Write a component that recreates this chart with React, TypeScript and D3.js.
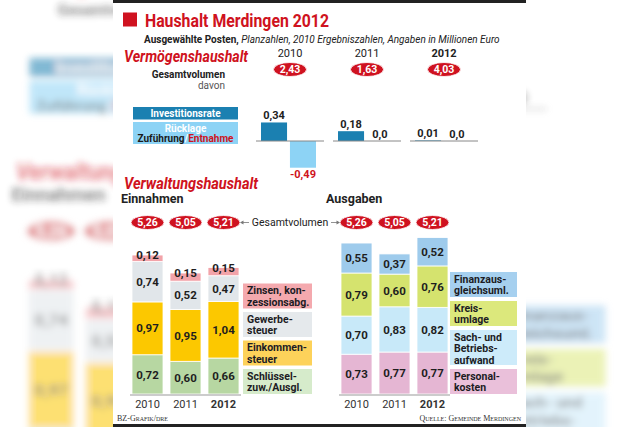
import React from 'react';
import * as d3 from 'd3';

const years = ['2010', '2011', '2012'];
const vermoegenTotal = [2.43, 1.63, 4.03];
const investitionsrate = [0.34, 0.18, 0.01];
const ruecklage = [-0.49, 0.0, 0.0];
const einnahmenTotal = [5.26, 5.05, 5.21];
const ausgabenTotal = [5.26, 5.05, 5.21];

const schluessel = [0.72, 0.6, 0.66];
const einkommen = [0.97, 0.95, 1.04];
const gewerbe = [0.74, 0.52, 0.47];
const zinsen = [0.12, 0.15, 0.15];

const personal = [0.73, 0.77, 0.77];
const sach = [0.7, 0.83, 0.82];
const kreis = [0.79, 0.6, 0.76];
const finanz = [0.55, 0.37, 0.52];

const einKeys = ['schluessel', 'einkommen', 'gewerbe', 'zinsen'];
const ausKeys = ['personal', 'sach', 'kreis', 'finanz'];
const einLegend = [['Zinsen, kon-', 'zessionsabg.'], ['Gewerbe-', 'steuer'], ['Einkommen-', 'steuer'], ['Schlüssel-', 'zuw./Ausgl.']];
const ausLegend = [['Finanzaus-', 'gleichsuml.'], ['Kreis-', 'umlage'], ['Sach- und', 'Betriebs-', 'aufwand'], ['Personal-', 'kosten']];

const barColor: Record<string, string> = {
  schluessel: '#b7d7a2', einkommen: '#fcc800', gewerbe: '#e1e6ea', zinsen: '#f2a3a9',
  personal: '#e5b6d3', sach: '#c8e9f9', kreis: '#d5e36e', finanz: '#9ecbec',
};
const legColorEin = ['#f4a9ae', '#e5e9ec', '#fdd25a', '#d6ebcb'];
const legColorAus = ['#a6d0ef', '#dce87c', '#cdebfa', '#eac0da'];

const RED = '#cf1220';
const SANS = 'Roboto, "Open Sans", sans-serif';
const fmt = (v: number) => (v === 0 ? '0,0' : v.toFixed(2).replace('.', ','));

const UNIT = 54.5;
const BASE = 394;

function Chart() {
  // Vermögenshaushalt
  const xV = d3.scaleBand().domain(years).range([256, 478]).paddingInner(0.117);
  const xVi = d3.scaleBand().domain(['inv', 'rue']).range([5, 60]).paddingInner(0.1);
  const yV = d3.scaleLinear().domain([-1, 1]).range([141 + UNIT, 141 - UNIT]);

  // Verwaltungshaushalt
  const xE = d3.scaleBand().domain(years).range([132, 239]).paddingInner(0.184);
  const xA = d3.scaleBand().domain(years).range([341, 448]).paddingInner(0.184);
  const y = d3.scaleLinear().domain([0, 3]).range([BASE, BASE - 3 * UNIT]);

  const einRows = years.map((yr, i) => ({ year: yr, schluessel: schluessel[i], einkommen: einkommen[i], gewerbe: gewerbe[i], zinsen: zinsen[i] }));
  const ausRows = years.map((yr, i) => ({ year: yr, personal: personal[i], sach: sach[i], kreis: kreis[i], finanz: finanz[i] }));
  const einStack = d3.stack<any>().keys(einKeys)(einRows);
  const ausStack = d3.stack<any>().keys(ausKeys)(ausRows);

  const stackBars = (stack: any[], x: d3.ScaleBand<string>, smallKey: string | null) =>
    stack.map((layer) => (
      <g key={layer.key}>
        {layer.map((d: any) => {
          const yr = d.data.year;
          const v = d.data[layer.key];
          const top = y(d[1]);
          const bot = y(d[0]);
          const cx = (x(yr) as number) + x.bandwidth() / 2;
          const ly = layer.key === smallKey ? top : (top + bot) / 2;
          return (
            <g key={yr}>
              <rect x={x(yr)} y={top} width={x.bandwidth()} height={bot - top} fill={barColor[layer.key]} stroke="#fff" strokeWidth={0.8} />
              <text x={cx} y={ly} dy="0.36em" textAnchor="middle" fontFamily={SANS} fontWeight={700} fontSize={11.5} fill="#1e1e1e">{fmt(v)}</text>
            </g>
          );
        })}
      </g>
    ));

  const legend = (items: string[][], colors: string[], x0: number, w: number, gap: number) => {
    let bottom = BASE;
    const out: any[] = [];
    for (let i = items.length - 1; i >= 0; i--) {
      const lines = items[i];
      const h = lines.length === 3 ? 35 : 25;
      const top = bottom - h;
      out.push(
        <g key={i}>
          <rect x={x0} y={top} width={w} height={h} fill={colors[i]} />
          {lines.map((l, j) => (
            <text key={j} x={x0 + 4} y={top + 10.5 + j * 11.5} fontFamily={SANS} fontWeight={700} fontSize={10.5} fill="#1c1c24">{l}</text>
          ))}
        </g>
      );
      bottom = top - gap;
    }
    return out;
  };

  const ellipse = (cx: number, cy: number, v: number, key: string) => (
    <g key={key}>
      <ellipse cx={cx} cy={cy} rx={16.5} ry={7} fill={RED} stroke="#fff" strokeWidth={0.8} />
      <text x={cx} y={cy} dy="0.36em" textAnchor="middle" fontFamily={SANS} fontWeight={700} fontSize={10.5} fill="#fff">{fmt(v)}</text>
    </g>
  );

  return (
    <g>
      {/* frame bars */}
      <rect x={113} y={0} width={413} height={3} fill="#222" />
      <rect x={113} y={424} width={413} height={3} fill="#222" />

      {/* Title */}
      <rect x={123} y={12.5} width={14} height={14} fill={RED} />
      <text x={145} y={26.5} fontFamily={SANS} fontWeight={700} fontSize={19} fill={RED} textLength={184} lengthAdjust="spacingAndGlyphs">Haushalt Merdingen 2012</text>
      <text x={144} y={43} fontFamily={SANS} fontSize={10} fill="#222">
        <tspan fontWeight={700}>Ausgewählte Posten, </tspan>
        <tspan fontStyle="italic">Planzahlen, 2010 Ergebniszahlen, Angaben in Millionen Euro</tspan>
      </text>

      {/* Vermögenshaushalt */}
      <text x={124} y={62} fontFamily={SANS} fontWeight={700} fontStyle="italic" fontSize={16} fill={RED} textLength={124} lengthAdjust="spacingAndGlyphs">Vermögenshaushalt</text>
      <text x={225} y={78} textAnchor="end" fontFamily={SANS} fontWeight={700} fontSize={10} fill="#222">Gesamtvolumen</text>
      <text x={225} y={89} textAnchor="end" fontFamily={SANS} fontSize={10} fill="#555">davon</text>
      {years.map((yr, i) => {
        const cx = (xV(yr) as number) + xV.bandwidth() / 2;
        return (
          <g key={yr}>
            <text x={cx} y={57} textAnchor="middle" fontFamily={SANS} fontWeight={yr === '2012' ? 700 : 400} fontSize={11} fill="#222">{yr}</text>
            {ellipse(cx, 69.5, vermoegenTotal[i], 'v' + yr)}
          </g>
        );
      })}

      {/* legend boxes Vermögen */}
      <rect x={133} y={107} width={105} height={12.5} fill="#1b80b1" />
      <text x={185.5} y={117} textAnchor="middle" fontFamily={SANS} fontWeight={700} fontSize={10} fill="#fff">Investitionsrate</text>
      <rect x={133} y={122} width={105} height={22} fill="#8dd3f5" />
      <text x={185.5} y={131.5} textAnchor="middle" fontFamily={SANS} fontWeight={700} fontSize={10} fill="#fff">Rücklage</text>
      <text x={185.5} y={142} textAnchor="middle" fontFamily={SANS} fontWeight={700} fontSize={10}>
        <tspan fill="#1a1a1a">Zuführung</tspan><tspan fill="#fff">/</tspan><tspan fill={RED}>Entnahme</tspan>
      </text>

      {years.map((yr, i) => {
        const gx = xV(yr) as number;
        const vals = [investitionsrate[i], ruecklage[i]];
        return (
          <g key={yr}>
            {vals.map((v, j) => {
              const k = j === 0 ? 'inv' : 'rue';
              const bx = gx + (xVi(k) as number);
              const y0 = yV(Math.max(0, v));
              const y1 = yV(Math.min(0, v));
              const cx = bx + xVi.bandwidth() / 2;
              return (
                <g key={k}>
                  <rect x={bx} y={y0} width={xVi.bandwidth()} height={y1 - y0} fill={j === 0 ? '#1b80b1' : '#8dd3f5'} />
                  {v < 0 ? (
                    <text x={cx} y={y1 + 10} textAnchor="middle" fontFamily={SANS} fontWeight={700} fontSize={11} fill={RED}>{fmt(v)}</text>
                  ) : (
                    <text x={cx} y={y0 - 3.5} textAnchor="middle" fontFamily={SANS} fontWeight={700} fontSize={11} fill="#1e1e1e">{fmt(v)}</text>
                  )}
                </g>
              );
            })}
            <line x1={gx} x2={gx + xV.bandwidth()} y1={yV(0)} y2={yV(0)} stroke="#888" strokeWidth={1} />
          </g>
        );
      })}

      {/* Verwaltungshaushalt */}
      <text x={124} y={188.5} fontFamily={SANS} fontWeight={700} fontStyle="italic" fontSize={16} fill={RED} textLength={134} lengthAdjust="spacingAndGlyphs">Verwaltungshaushalt</text>
      <text x={121} y={202.5} fontFamily={SANS} fontWeight={700} fontSize={12.5} fill="#222">Einnahmen</text>
      <text x={326} y={202.5} fontFamily={SANS} fontWeight={700} fontSize={12.5} fill="#222">Ausgaben</text>

      {years.map((yr, i) => ellipse((xE(yr) as number) + xE.bandwidth() / 2, 222.5, einnahmenTotal[i], 'e' + yr))}
      {years.map((yr, i) => ellipse((xA(yr) as number) + xA.bandwidth() / 2, 222.5, ausgabenTotal[i], 'a' + yr))}

      <g stroke="#777" fill="#777" strokeWidth={0.8}>
        <line x1={242} x2={249} y1={222.5} y2={222.5} />
        <path d="M240,222.5 L243.5,220.5 L243.5,224.5 Z" stroke="none" />
        <line x1={331} x2={338} y1={222.5} y2={222.5} />
        <path d="M340,222.5 L336.5,220.5 L336.5,224.5 Z" stroke="none" />
      </g>
      <text x={290} y={222.5} dy="0.36em" textAnchor="middle" fontFamily={SANS} fontSize={10.5} fill="#222">Gesamtvolumen</text>

      {stackBars(einStack, xE, 'zinsen')}
      {stackBars(ausStack, xA, null)}

      <line x1={130} x2={241} y1={BASE + 1} y2={BASE + 1} stroke="#999" strokeWidth={1} />
      <line x1={339} x2={450} y1={BASE + 1} y2={BASE + 1} stroke="#999" strokeWidth={1} />

      {years.map((yr) => (
        <g key={yr}>
          <text x={(xE(yr) as number) + xE.bandwidth() / 2} y={408} textAnchor="middle" fontFamily={SANS} fontWeight={yr === '2012' ? 700 : 400} fontSize={11} fill="#333">{yr}</text>
          <text x={(xA(yr) as number) + xA.bandwidth() / 2} y={408} textAnchor="middle" fontFamily={SANS} fontWeight={yr === '2012' ? 700 : 400} fontSize={11} fill="#333">{yr}</text>
        </g>
      ))}

      {legend(einLegend, legColorEin, 243, 69, 3.5)}
      {legend(ausLegend, legColorAus, 450, 67, 4)}

      {/* footer */}
      <text x={117} y={421} fontFamily='"Liberation Serif", serif' fontSize={8} fill="#333" style={{ fontVariant: 'small-caps' }}>BZ-Grafik/dre</text>
      <text x={521} y={421} textAnchor="end" fontFamily='"Liberation Serif", serif' fontSize={8} fill="#333" style={{ fontVariant: 'small-caps' }}>Quelle: Gemeinde Merdingen</text>
    </g>
  );
}

export default function App() {
  return (
    <div style={{ position: 'absolute', left: 0, top: 0 }}>
      <svg width={640} height={427} viewBox="0 0 640 427" style={{ display: 'block' }}>
        <defs>
          <filter id="bgblur" x="-20%" y="-20%" width="140%" height="140%">
            <feGaussianBlur stdDeviation={3.6} />
          </filter>
          <g id="chartBody"><Chart /></g>
        </defs>
        <rect width={640} height={427} fill="#fff" />
        <g opacity={0.55} filter="url(#bgblur)">
          <use href="#chartBody" transform="translate(-170,-102.5) scale(1.5)" />
        </g>
        <rect x={113} y={0} width={413} height={427} fill="#fff" />
        <use href="#chartBody" />
      </svg>
    </div>
  );
}
